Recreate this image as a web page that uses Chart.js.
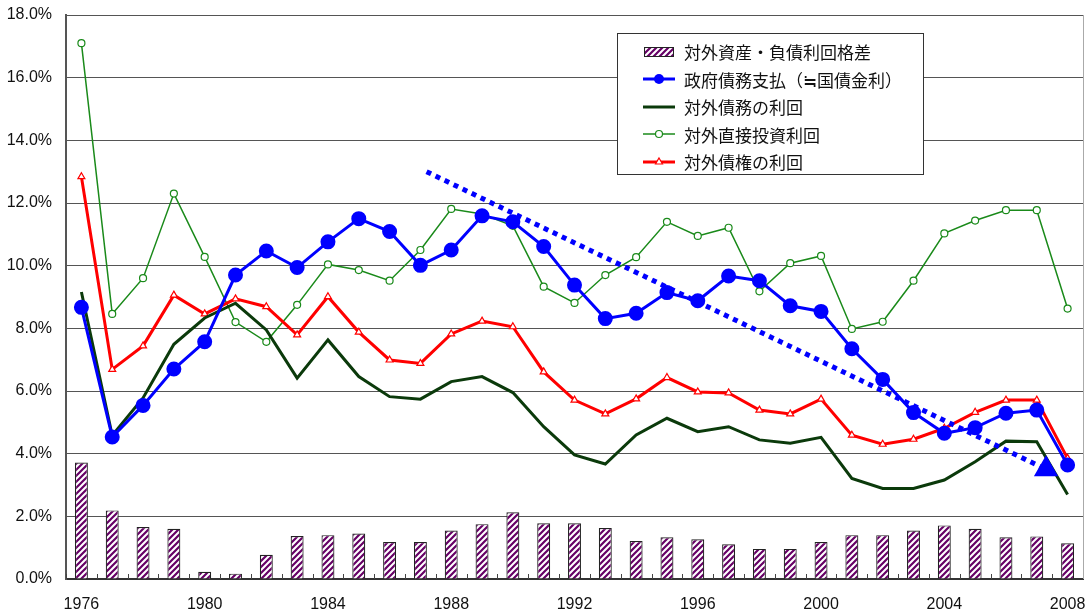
<!DOCTYPE html>
<html>
<head>
<meta charset="utf-8">
<script src="https://cdn.jsdelivr.net/npm/chart.js@4.4.1/dist/chart.umd.min.js"></script>
<style>
  body { margin: 0; background: #fff; }
  #wrap { position: relative; width: 1089px; height: 616px; }
  #legend {
    position: absolute; left: 617px; top: 33px; width: 307px; height: 142px;
    border: 1px solid #333; background: #fff; box-sizing: border-box;
    padding-top: 4px;
    font-family: "Noto Sans CJK JP", sans-serif; font-size: 17px; color: #111;
  }
  .row { display: flex; align-items: center; height: 27.5px; }
  .row canvas { margin-left: 24px; margin-right: 8px; }
</style>
</head>
<body>
<div id="wrap">
  <canvas id="chart" width="1089" height="616"></canvas>
  <div id="legend"></div>
</div>
<script>
// Years on the category axis
const years = [];
for (let y = 1976; y <= 2008; y++) years.push(String(y));

// 対外資産・負債利回格差 (bars)
const spreadValues = [3.72, 2.19, 1.66, 1.60, 0.23, 0.17, 0.77, 1.37, 1.40, 1.45, 1.18,
  1.18, 1.55, 1.75, 2.13, 1.78, 1.78, 1.63, 1.21, 1.33, 1.27, 1.11, 0.96, 0.96, 1.18,
  1.40, 1.40, 1.55, 1.71, 1.60, 1.33, 1.36, 1.14];

// 政府債務支払（≒国債金利）
const govValues = [8.67, 4.53, 5.54, 6.70, 7.57, 9.70, 10.47, 9.94, 10.76, 11.50, 11.09,
  10.01, 10.50, 11.59, 11.40, 10.61, 9.38, 8.31, 8.48, 9.14, 8.88, 9.67, 9.52, 8.72, 8.54,
  7.35, 6.37, 5.31, 4.65, 4.83, 5.29, 5.39, 3.64];

// 対外債務の利回
const liabValues = [9.16, 4.58, 5.78, 7.49, 8.33, 8.80, 7.95, 6.41, 7.63, 6.46, 5.82,
  5.74, 6.30, 6.46, 5.95, 4.86, 3.96, 3.67, 4.60, 5.13, 4.70, 4.86, 4.44, 4.33, 4.52,
  3.21, 2.89, 2.89, 3.16, 3.74, 4.40, 4.38, 2.70];

// 対外直接投資利回
const fdiValues = [17.10, 8.46, 9.60, 12.30, 10.28, 8.20, 7.57, 8.75, 10.04, 9.86, 9.52,
  10.50, 11.81, 11.65, 11.27, 9.33, 8.81, 9.70, 10.27, 11.40, 10.95, 11.21, 9.18, 10.08,
  10.31, 7.98, 8.21, 9.52, 11.03, 11.44, 11.77, 11.77, 8.63];

// 対外債権の利回
const claimValues = [12.84, 6.69, 7.44, 9.06, 8.46, 8.94, 8.69, 7.79, 9.01, 7.88, 6.99,
  6.88, 7.82, 8.23, 8.05, 6.61, 5.71, 5.27, 5.75, 6.43, 5.97, 5.94, 5.39, 5.27, 5.74,
  4.59, 4.30, 4.46, 4.81, 5.32, 5.71, 5.71, 3.85];

// Downward trend arrow (year position, value)
const trendX = [1987.2, 2007.3];
const trendY = [13.0, 3.5];

const seriesNames = ['対外資産・負債利回格差', '政府債務支払（≒国債金利）', '対外債務の利回',
  '対外直接投資利回', '対外債権の利回'];

const BLUE = '#0000ff', DARK = '#0b3a0b', GREEN = '#1a8a1a', RED = '#ff0000', PURPLE = '#660066';

function makeHatch() {
  const c = document.createElement('canvas');
  c.width = 6; c.height = 6;
  const g = c.getContext('2d');
  g.fillStyle = '#fff';
  g.fillRect(0, 0, 6, 6);
  g.strokeStyle = PURPLE;
  g.lineWidth = 2.2;
  g.beginPath();
  g.moveTo(-1, 7); g.lineTo(7, -1);
  g.moveTo(-1, 1); g.lineTo(1, -1);
  g.moveTo(5, 7); g.lineTo(7, 5);
  g.stroke();
  return g.createPattern(c, 'repeat');
}

const hatch = makeHatch();

// small inward tick marks on the x axis + right frame line
const frame = {
  id: 'frame',
  afterDraw(chart) {
    const { ctx, chartArea } = chart;
    const xs = chart.scales.x;
    const step = xs.width / years.length;
    ctx.save();
    ctx.strokeStyle = '#444';
    ctx.lineWidth = 1;
    ctx.beginPath();
    for (let i = 0; i <= years.length; i++) {
      const px = Math.round(xs.left + i * step) + 0.5;
      ctx.moveTo(px, chartArea.bottom);
      ctx.lineTo(px, chartArea.bottom - 5);
    }
    ctx.stroke();
    ctx.strokeStyle = '#aaa';
    ctx.beginPath();
    ctx.moveTo(chartArea.right + 0.5, chartArea.top);
    ctx.lineTo(chartArea.right + 0.5, chartArea.bottom);
    ctx.stroke();
    ctx.restore();
  }
};

const tickFont = { family: "'Liberation Sans', Arial, sans-serif", size: 16 };

new Chart(document.getElementById('chart'), {
  type: 'bar',
  data: {
    labels: years,
    datasets: [
      {
        type: 'bar', label: seriesNames[0], data: spreadValues,
        backgroundColor: hatch, borderColor: '#222', borderWidth: 1.2,
        grouped: false, barPercentage: 0.42, categoryPercentage: 1, order: 10
      },
      {
        type: 'line', label: seriesNames[3], data: fdiValues,
        borderColor: GREEN, borderWidth: 1.5, pointRadius: 3.5,
        pointBackgroundColor: '#fff', pointBorderColor: GREEN, pointBorderWidth: 1.2,
        tension: 0, order: 5
      },
      {
        type: 'line', label: seriesNames[4], data: claimValues,
        borderColor: RED, borderWidth: 3, pointStyle: 'triangle', pointRadius: 4,
        pointBackgroundColor: '#fff', pointBorderColor: RED, pointBorderWidth: 1.2,
        tension: 0, order: 4
      },
      {
        type: 'line', label: seriesNames[2], data: liabValues,
        borderColor: DARK, borderWidth: 3, pointRadius: 0, tension: 0, order: 3
      },
      {
        type: 'line', label: seriesNames[1], data: govValues,
        borderColor: BLUE, borderWidth: 3, pointRadius: 6,
        pointBackgroundColor: BLUE, pointBorderColor: BLUE, tension: 0, order: 2
      },
      {
        type: 'line', label: 'trend', xAxisID: 'xt',
        data: trendX.map((x, i) => ({ x: x, y: trendY[i] })),
        borderColor: BLUE, borderWidth: 5, borderDash: [5, 5], borderCapStyle: 'butt',
        pointStyle: 'triangle', pointRadius: [0, 9],
        pointBackgroundColor: BLUE, pointBorderColor: BLUE, order: 1
      }
    ]
  },
  options: {
    responsive: false,
    animation: false,
    layout: { autoPadding: false, padding: { top: 15, right: 6, left: 0, bottom: 0 } },
    plugins: { legend: { display: false }, tooltip: { enabled: false } },
    scales: {
      x: {
        type: 'category',
        offset: true,
        afterFit(scale) {
          scale.height = 37;
          scale.paddingLeft = 0;
          scale.paddingRight = 0;
        },
        grid: {
          display: true, drawOnChartArea: false, drawTicks: true,
          tickLength: 16, tickColor: 'rgba(0,0,0,0)'
        },
        border: { color: '#333', width: 2 },
        ticks: {
          autoSkip: false, maxRotation: 0, padding: 0, color: '#111', font: tickFont,
          callback(v, i) { return (1976 + i) % 4 === 0 ? years[i] : ''; }
        }
      },
      xt: {
        type: 'linear', display: false, offset: false, min: 1975.5, max: 2008.5,
        ticks: { display: false }
      },
      y: {
        min: 0, max: 18,
        afterFit(scale) {
          scale.width = 66;
          scale.paddingTop = 0;
          scale.paddingBottom = 0;
        },
        grid: { color: '#555', lineWidth: 1, drawTicks: false },
        border: { color: '#555', width: 2 },
        ticks: {
          stepSize: 2, padding: 14, color: '#111', font: tickFont,
          callback(v) { return v.toFixed(1) + '%'; }
        }
      }
    }
  },
  plugins: [frame]
});

// legend drawn as HTML, each with its own little sample icon
const legendStyles = [
  { kind: 'bar' },
  { kind: 'line', color: BLUE, width: 3, marker: 'dot' },
  { kind: 'line', color: DARK, width: 3 },
  { kind: 'line', color: GREEN, width: 1.5, marker: 'ring' },
  { kind: 'line', color: RED, width: 3, marker: 'tri' }
];
const legendBox = document.getElementById('legend');
legendStyles.forEach((s, i) => {
  const row = document.createElement('div');
  row.className = 'row';
  const icon = document.createElement('canvas');
  icon.width = 34; icon.height = 16;
  const g = icon.getContext('2d');
  if (s.kind === 'bar') {
    g.fillStyle = hatch;
    g.fillRect(2, 3, 30, 10);
    g.strokeStyle = '#222';
    g.lineWidth = 1;
    g.strokeRect(2.5, 3.5, 29, 9);
  } else {
    g.strokeStyle = s.color;
    g.lineWidth = s.width;
    g.beginPath(); g.moveTo(1, 8); g.lineTo(33, 8); g.stroke();
    if (s.marker === 'dot') {
      g.fillStyle = s.color;
      g.beginPath(); g.arc(17, 8, 5, 0, Math.PI * 2); g.fill();
    } else if (s.marker === 'ring') {
      g.fillStyle = '#fff'; g.lineWidth = 1.2;
      g.beginPath(); g.arc(17, 8, 3.5, 0, Math.PI * 2); g.fill(); g.stroke();
    } else if (s.marker === 'tri') {
      g.fillStyle = '#fff'; g.lineWidth = 1.2;
      g.beginPath(); g.moveTo(17, 4); g.lineTo(20.5, 10); g.lineTo(13.5, 10); g.closePath();
      g.fill(); g.stroke();
    }
  }
  row.appendChild(icon);
  const label = document.createElement('span');
  label.textContent = seriesNames[i];
  row.appendChild(label);
  legendBox.appendChild(row);
});
</script>
</body>
</html>
